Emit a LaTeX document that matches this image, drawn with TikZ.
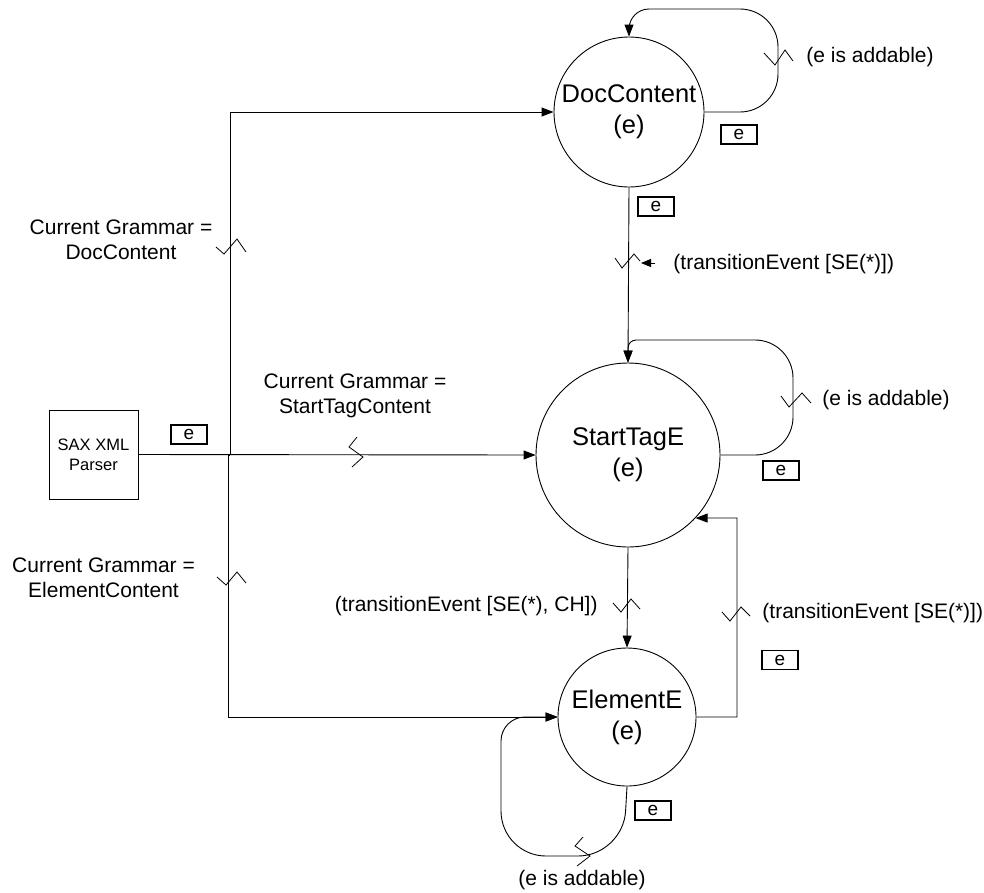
\documentclass[tikz,border=0pt]{standalone}
\usepackage{fontspec}
\setmainfont{Liberation Sans}
\usetikzlibrary{arrows.meta}
\begin{document}
\begin{tikzpicture}[x=1pt,y=-1pt,line width=0.9pt,
  state/.style={circle,draw,align=center,inner sep=0pt,font=\fontsize{25.5}{31}\selectfont},
  lbl/.style={align=center,inner sep=0pt,font=\fontsize{21}{25}\selectfont},
  ebox/.style={draw,minimum width=36pt,minimum height=19pt,inner sep=0pt,line width=1.1pt,font=\fontsize{19}{19}\selectfont},
  arr/.style={-{Triangle[length=12pt,width=9pt]}},
  zz/.style={line width=0.8pt,line join=miter}]
\useasboundingbox (0,0) rectangle (984,892);

% states
\node[state,minimum size=150pt] (doc) at (629,112) {DocContent\\(e)};
\node[state,minimum size=184pt] (stag) at (628,455) {StartTagE\\(e)};
\node[state,minimum size=138pt] (elem) at (627,717) {ElementE\\(e)};
\node[draw,minimum width=89pt,minimum height=89pt,inner sep=0pt,align=center,
      font=\fontsize{16.5}{20}\selectfont] (sax) at (93.5,454.5) {SAX XML\\Parser};

% e boxes
\node[ebox] (e1) at (189,434.5) {e};
\node[ebox] (e2) at (739,134.5) {e};
\node[ebox] (e3) at (656,206.5) {e};
\node[ebox] (e4) at (781,470.5) {e};
\node[ebox] (e5) at (780,660) {e};
\node[ebox] (e6) at (653,810.5) {e};

% labels
\node[lbl] (l1) at (121,240) {Current Grammar =\\DocContent};
\node[lbl] (l2) at (355,396) {Current Grammar =\\StartTagContent};
\node[lbl] (l3) at (103.5,578) {Current Grammar =\\ElementContent};
\node[lbl,anchor=west] (l4) at (806,57) {(e is addable)};
\node[lbl,anchor=west] (l5) at (673,264) {(transitionEvent [SE(*)])};
\node[lbl,anchor=west] (l6) at (822,400) {(e is addable)};
\node[lbl,anchor=east] (l7) at (598,606) {(transitionEvent [SE(*), CH])};
\node[lbl,anchor=west] (l8) at (762,613) {(transitionEvent [SE(*)])};
\node[lbl] (l9) at (582,880) {(e is addable)};

% junction coordinates
\coordinate (ju) at (230,455);
\coordinate (jl) at (228,455);
\coordinate (dl1) at (778,112);
\coordinate (dl2) at (778,9);
\coordinate (dl3) at (629,9);
\coordinate (sl1) at (793,455);
\coordinate (sl2) at (793,340);
\coordinate (sl3) at (628,340);
\coordinate (r1) at (737,717);
\coordinate (r2) at (737,518);
\coordinate (el1) at (623,856);
\coordinate (el2) at (501,856);
\coordinate (el3) at (501,717);

% connectors
\draw[arr] (sax.east) -- (stag.west);
\draw (ju) -- (jl);
\draw[arr] (ju) |- (doc.west);
\draw[arr] (jl) |- (elem.west);
\draw[arr] (doc.south) -- (stag.north);
\draw[arr] (stag.south) -- (elem.north);
\draw[arr] (elem.east) -- (r1) -- (r2) -- (stag.-43);
\draw[arr] (doc.east) [rounded corners=38pt] -- (dl1) -- (dl2) [rounded corners=20pt] -- (dl3) [sharp corners] -- (doc.north);
\draw[arr] (stag.east) [rounded corners=38pt] -- (sl1) -- (sl2) [rounded corners=8pt] -- (sl3) [sharp corners] -- (stag.north);
\draw[arr] (elem.south) [rounded corners=45pt] -- (el1) -- (el2) [rounded corners=24pt] -- (el3) [sharp corners] -- (elem.west);

% zigzag marks
\draw[zz] (764,53) -- (775,65) -- (785,50) -- (793,61);
\draw[zz] (615,258) -- (622,268) -- (634,254) -- (640,261);
\draw[-{Triangle[length=10pt,width=8pt]},line width=0.8pt] (l5.west) ++(-18,-1) coordinate (ta) -- ++(-14,0);
\draw[zz] (216,247) -- (224,254) -- (237,239) -- (246,252);
\draw[zz] (217,577) -- (226,585) -- (237,572) -- (246,583);
\draw[zz] (357,437) -- (349,447) -- (363,457) -- (352,467);
\draw[zz] (781,396) -- (789,407) -- (802,393) -- (811,403);
\draw[zz] (613,603) -- (621,612) -- (631,599) -- (640,609);
\draw[zz] (722,612) -- (730,621) -- (741,607) -- (750,616);
\draw[zz] (583,837) -- (575,846) -- (590,856) -- (577,866);
\end{tikzpicture}
\end{document}
